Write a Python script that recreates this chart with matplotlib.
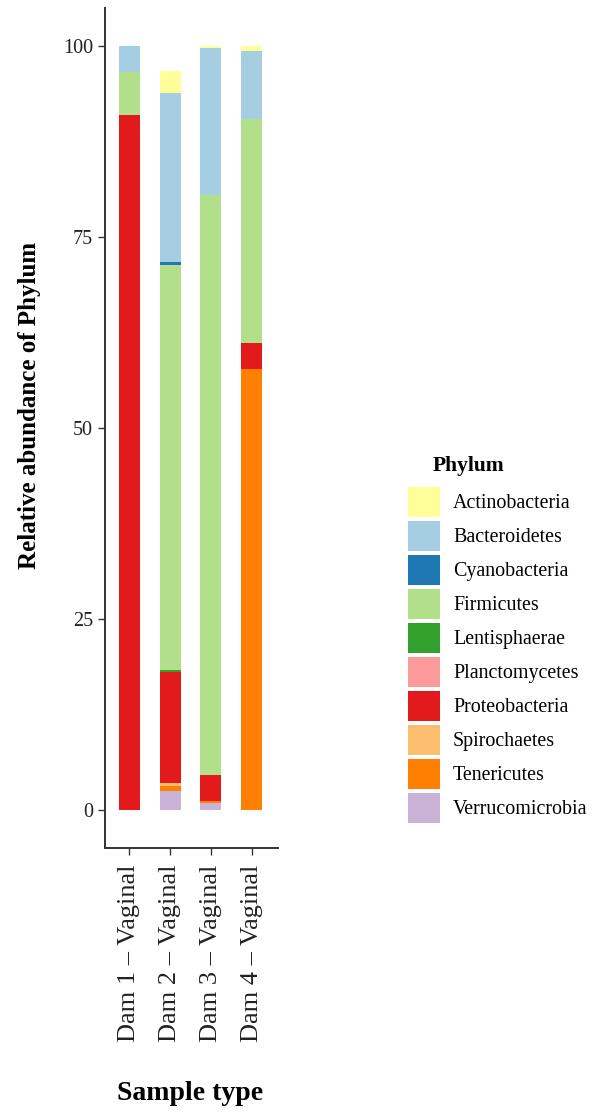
import numpy as np
import matplotlib
matplotlib.use("Agg")
import matplotlib.pyplot as plt
from matplotlib.patches import Patch

plt.rcParams['font.family'] = ['Liberation Serif', 'DejaVu Serif']

## Data: relative abundance (%) per phylum and sample

samples = ["Dam 1 \u2013 Vaginal", "Dam 2 \u2013 Vaginal", "Dam 3 \u2013 Vaginal", "Dam 4 \u2013 Vaginal"]

# stacking order: bottom -> top
phyla = ["Verrucomicrobia", "Tenericutes", "Spirochaetes", "Proteobacteria", "Planctomycetes",
         "Lentisphaerae", "Firmicutes", "Cyanobacteria", "Bacteroidetes", "Actinobacteria"]

verrucomicrobia = [0.0, 2.5, 0.9, 0.0]
tenericutes     = [0.0, 0.7, 0.3, 57.7]
spirochaetes    = [0.0, 0.3, 0.0, 0.0]
proteobacteria  = [91.0, 14.5, 3.4, 3.4]
planctomycetes  = [0.0, 0.0, 0.0, 0.0]
lentisphaerae   = [0.0, 0.3, 0.0, 0.0]
firmicutes      = [5.6, 53.0, 75.9, 29.4]
cyanobacteria   = [0.0, 0.4, 0.0, 0.0]
bacteroidetes   = [3.4, 22.2, 19.2, 8.9]
actinobacteria  = [0.0, 2.8, 0.3, 0.6]

values = [verrucomicrobia, tenericutes, spirochaetes, proteobacteria, planctomycetes,
          lentisphaerae, firmicutes, cyanobacteria, bacteroidetes, actinobacteria]

colors = {"Actinobacteria": "#FFFF99", "Bacteroidetes": "#A6CEE3", "Cyanobacteria": "#1F78B4",
          "Firmicutes": "#B2DF8A", "Lentisphaerae": "#33A02C", "Planctomycetes": "#FB9A99",
          "Proteobacteria": "#E31A1C", "Spirochaetes": "#FDBF6F", "Tenericutes": "#FF7F00",
          "Verrucomicrobia": "#CAB2D6"}

## Plot

W, H = 598, 1113
fig = plt.figure(figsize=(W / 100, H / 100), dpi=100)
ax = fig.add_axes([105 / W, (H - 848) / H, 173 / W, 840 / H])

x = np.arange(1, len(samples) + 1)
bottom = np.zeros(len(samples))
for name, vals in zip(phyla, values):
    ax.bar(x, vals, width=0.52, bottom=bottom, color=colors[name], linewidth=0)
    bottom += np.array(vals)

ax.set_xlim(0.4, 4.65)
ax.set_ylim(-4.97, 104.97)
ax.set_yticks([0, 25, 50, 75, 100])
ax.set_xticks(x)
ax.set_xticklabels(samples, rotation=90, fontsize=19, color="#222222")
ax.tick_params(axis='y', labelsize=14.5, labelcolor="#222222", length=5, width=1, color="#333333")
ax.tick_params(axis='x', length=5, width=1, color="#333333", pad=7)
for s in ["top", "right"]:
    ax.spines[s].set_visible(False)
for s in ["left", "bottom"]:
    ax.spines[s].set_linewidth(1.4)
    ax.spines[s].set_color("#333333")

ax.set_ylabel("Relative abundance of Phylum", fontsize=18, fontweight="bold", va="center")
ax.yaxis.set_label_coords((30 - 105) / 173, (848 - 405) / 840)
ax.set_xlabel("Sample type", fontsize=20, fontweight="bold", va="center")
ax.xaxis.set_label_coords(0.49, -(1094 - 848) / 840)

## Legend (alphabetical, as in the reference)

handles = [Patch(facecolor=colors[n], edgecolor="none") for n in sorted(colors)]
fig.text(433 / W, 1 - 466 / H, "Phylum", fontsize=15.5, fontweight="bold", va="center", ha="left")
fig.legend(handles, sorted(colors), loc="upper left", bbox_to_anchor=(408 / W, 1 - 487 / H),
           frameon=False, fontsize=14.4, handlelength=1.6, handleheight=1.93,
           labelspacing=0.2, handletextpad=0.65, borderpad=0, borderaxespad=0)

fig.savefig("out.png", dpi=100)
